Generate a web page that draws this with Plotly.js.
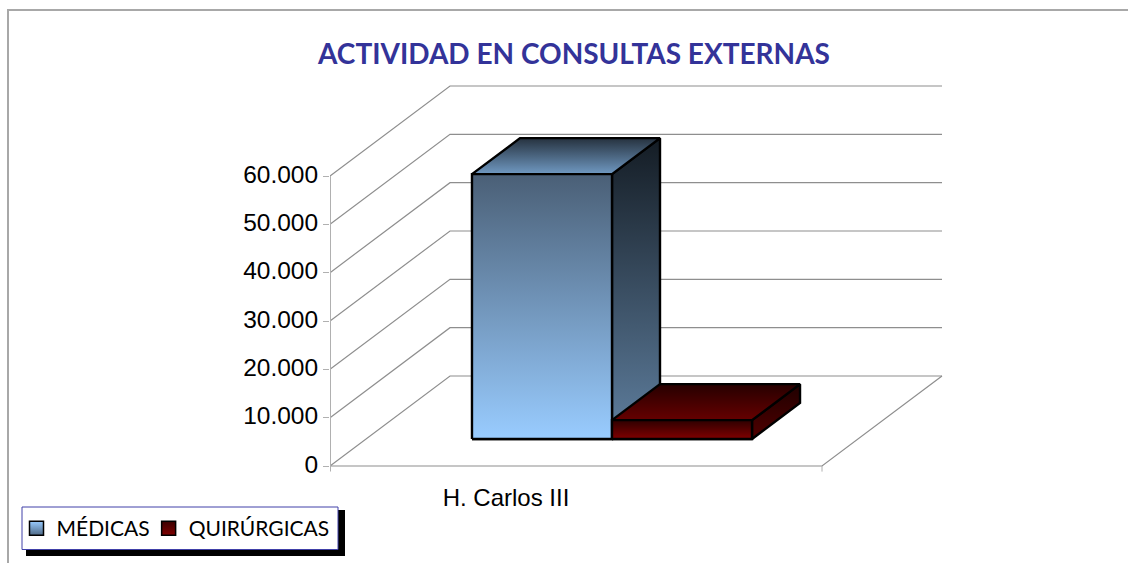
<!DOCTYPE html>
<html><head><meta charset="utf-8">
<script src="https://cdn.plot.ly/plotly-3.0.1.min.js"></script>
<style>html,body{margin:0;padding:0;background:#fff}#c{width:1128px;height:563px}</style>
</head><body><div id="c"></div>
<script>
const categories = ['H. Carlos III'];
const medicas = [54800];
const quirurgicas = [3900];
const tickValues = [0, 10000, 20000, 30000, 40000, 50000, 60000];
const tickLabels = ['0', '10.000', '20.000', '30.000', '40.000', '50.000', '60.000'];
const seriesNames = ['MÉDICAS', 'QUIRÚRGICAS'];

// oblique projection: depth 0..1 shifts a point right and upward
const W = 1128, H = 563, plotL = 330, plotR = 950, plotT = 80, plotB = 480;
const unitPx = 492, valPx = 48.33 / 10000, y0Px = 466;
const DX = 120 / unitPx, DY = 90 / valPx;
const P = (x, v, d) => [x + d * DX, v + d * DY];
const xr = [0, (plotR - plotL) / unitPx];
const yr = [(y0Px - plotB) / valPx, (y0Px - plotT) / valPx];
const GRID = '#8e8e8e', AXIS = '#b0b0b0';

const traces = [];
function poly(pts, opt) {
  traces.push(Object.assign({
    type: 'scatter', mode: 'lines', x: pts.map(p => p[0]), y: pts.map(p => p[1]),
    showlegend: false, hoverinfo: 'skip', cliponaxis: false
  }, opt));
}
// back wall, side wall and floor lines
tickValues.forEach(v => {
  poly([P(0, v, 0), P(0, v, 1), P(1, v, 1)], {line: {color: GRID, width: 1.2}});
});
poly([P(0, 0, 0), P(1, 0, 0), P(1, 0, 1)], {line: {color: GRID, width: 1.2}});
// front axis line and its ticks on the floor
poly([[0, tickValues[6]], [0, yr[0] * 0.4]], {line: {color: AXIS, width: 2}});
poly([[1, 0], [1, yr[0] * 0.4]], {line: {color: AXIS, width: 1}});

function box(x0, x1, v, d0, d1, g) {
  const edge = {line: {color: '#000', width: 2.4}, fill: 'toself'};
  const fg = (a, b) => ({type: 'vertical', colorscale: [[0, a], [1, b]]});
  poly([P(x0, 0, d0), P(x1, 0, d0), P(x1, 0, d1), P(x1, v, d1), P(x1, v, d0), P(x1, 0, d0)],
       Object.assign({}, edge, {fillgradient: fg(g.side[0], g.side[1])}));
  poly([P(x0, v, d0), P(x1, v, d0), P(x1, v, d1), P(x0, v, d1), P(x0, v, d0)],
       Object.assign({}, edge, {fillgradient: fg(g.top[0], g.top[1])}));
  poly([P(x0, 0, d0), P(x1, 0, d0), P(x1, v, d0), P(x0, v, d0), P(x0, 0, d0)],
       Object.assign({}, edge, {fillgradient: fg(g.front[0], g.front[1])}));
}
const bx0 = 0.2154, bw = 0.2846, d0 = 0.3, d1 = 0.7;
const blue = {front: ['#99ccff', '#4a5f76'], side: ['#5f7f9f', '#141c24'], top: ['#7099c2', '#26323f']};
const red = {front: ['#800000', '#2e0000'], side: ['#500000', '#1f0000'], top: ['#660000', '#260000']};
box(bx0, bx0 + bw, medicas[0], d0, d1, blue);
box(bx0 + bw, bx0 + 2 * bw, quirurgicas[0], d0, d1, red);

// legend keys
[['#4f6a87', '#99ccff'], ['#800000', '#3a0000']].forEach((c, i) => {
  traces.push({type: 'scatter', mode: 'markers', x: [null], y: [null], name: seriesNames[i],
    marker: {symbol: 'square', size: 14, color: c[1], line: {color: '#000', width: 1.5},
      gradient: {type: 'vertical', color: c[0]}}, hoverinfo: 'skip'});
});

const fx = x => (x - plotL) / (plotR - plotL), fy = y => (plotB - y) / (plotB - plotT);
const layout = {
  width: W, height: H, paper_bgcolor: '#fff', plot_bgcolor: 'rgba(0,0,0,0)',
  margin: {l: plotL, r: W - plotR, t: plotT, b: H - plotB, autoexpand: false},
  title: {text: 'ACTIVIDAD EN CONSULTAS EXTERNAS', x: 574 / W, xref: 'container', xanchor: 'center',
    y: 1 - 54 / H, yref: 'container', yanchor: 'middle',
    font: {family: 'Lato', size: 28, color: '#333399', weight: 'bold'}},
  font: {family: 'Liberation Sans'},
  xaxis: {range: xr, showgrid: false, zeroline: false, showline: false, ticks: '',
    tickmode: 'array', tickvals: [0.3577], ticktext: categories, ticklen: 0, ticklabelstandoff: 1,
    tickfont: {family: 'Liberation Sans', size: 24, color: '#000'}, automargin: false},
  yaxis: {range: yr, showgrid: false, zeroline: false, showline: false, ticks: 'outside', ticklen: 6,
    tickwidth: 1, tickcolor: AXIS, tickmode: 'array', tickvals: tickValues, ticktext: tickLabels,
    ticklabelshift: -2,
    tickfont: {family: 'Liberation Sans', size: 24.5, color: '#000'}, automargin: false},
  showlegend: true,
  legend: {orientation: 'h', x: fx(22.5), xanchor: 'left', y: fy(508), yanchor: 'top',
    bgcolor: 'rgba(0,0,0,0)', borderwidth: 0, indentation: -6,
    font: {family: 'Lato', size: 21, color: '#000'}, itemclick: false, itemdoubleclick: false},
  shapes: [
    {type: 'rect', xref: 'paper', yref: 'paper', layer: 'above', line: {width: 0}, fillcolor: '#000',
      x0: fx(26), x1: fx(345), y0: fy(510), y1: fy(556)},
    {type: 'rect', xref: 'paper', yref: 'paper', layer: 'above', line: {color: '#4040a8', width: 1}, fillcolor: '#fff',
      x0: fx(22), x1: fx(338), y0: fy(507), y1: fy(549.5)},
    {type: 'path', xref: 'paper', yref: 'paper', layer: 'below', line: {color: '#a8a8a8', width: 2},
      path: 'M ' + fx(8) + ' ' + fy(563) + ' L ' + fx(8) + ' ' + fy(10) + ' L ' + fx(W) + ' ' + fy(10)}
  ]
};
Plotly.newPlot('c', traces, layout, {displayModeBar: false});
</script></body></html>
